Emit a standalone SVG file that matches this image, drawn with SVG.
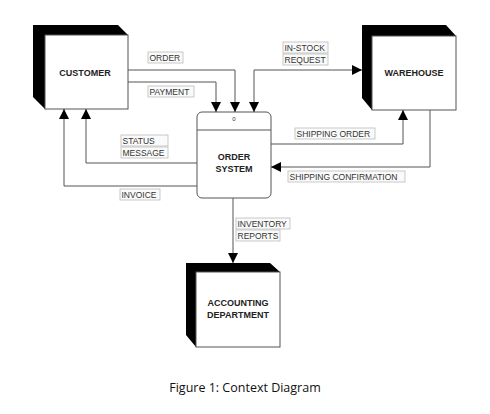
<svg xmlns="http://www.w3.org/2000/svg" width="490" height="414" viewBox="0 0 490 414">
<style>
.blk{fill:#000}
.face{fill:#fff;stroke:#555;stroke-width:1}
.nt{font-family:"Liberation Sans",Arial,sans-serif;font-size:9px;font-weight:bold;fill:#222;text-anchor:middle}
.ln{fill:none;stroke:#555;stroke-width:1}
.lb{fill:#fafafa;stroke:#bbb;stroke-width:0.8}
.lt{font-family:"Liberation Sans",Arial,sans-serif;font-size:8.5px;fill:#333}
.cap{font-family:"Open Sans","Liberation Sans",sans-serif;font-size:12.5px;fill:#111;text-anchor:middle}
</style>
<defs>
<marker id="ah" viewBox="0 0 10 10" refX="10" refY="5" markerWidth="10" markerHeight="10" markerUnits="userSpaceOnUse" orient="auto-start-reverse">
<path d="M0,0 L10,5 L0,10 z" fill="#000"/>
</marker>
</defs>
<rect width="490" height="414" fill="#fff"/>
<g id="customer">
<polygon class="blk" points="33,25 118,25 128,35 45,35 45,109 33,97"/>
<rect class="face" x="45" y="35" width="83" height="74"/>
<text class="nt" x="85" y="76">CUSTOMER</text>
</g>
<g id="warehouse">
<polygon class="blk" points="362,25 446,25 456,36 372,36 372,110 362,98"/>
<rect class="face" x="372" y="36" width="84" height="74"/>
<text class="nt" x="414" y="76">WAREHOUSE</text>
</g>
<g id="accounting">
<polygon class="blk" points="186,263 270,263 280,272 196,272 196,347 186,335"/>
<rect class="face" x="196" y="272" width="84" height="75"/>
<text class="nt" x="238" y="306">ACCOUNTING</text>
<text class="nt" x="238" y="318">DEPARTMENT</text>
</g>
<g id="order-system">
<rect class="face" x="197" y="112" width="74" height="86" rx="5"/>
<line class="ln" x1="197" y1="130" x2="271" y2="130"/>
<text x="234" y="121" font-family="Liberation Sans,Arial,sans-serif" font-size="6px" fill="#333" text-anchor="middle">0</text>
<text class="nt" x="234" y="160">ORDER</text>
<text class="nt" x="234" y="172">SYSTEM</text>
</g>
<g id="connectors">
<polyline class="ln" points="128,70 235,70 235,112" marker-end="url(#ah)"/>
<polyline class="ln" points="128,82 216,82 216,112" marker-end="url(#ah)"/>
<polyline class="ln" points="254,112 254,70 362,70" marker-start="url(#ah)" marker-end="url(#ah)"/>
<polyline class="ln" points="271,144 403,144 403,110" marker-end="url(#ah)"/>
<polyline class="ln" points="430,110 430,167 271,167" marker-end="url(#ah)"/>
<polyline class="ln" points="197,163 86,163 86,109" marker-end="url(#ah)"/>
<polyline class="ln" points="197,186 64,186 64,109" marker-end="url(#ah)"/>
<polyline class="ln" points="233,198 233,263" marker-end="url(#ah)"/>
</g>
<g id="labels">
<rect class="lb" x="148" y="52" width="35" height="11"/>
<text class="lt" x="149.5" y="60.5">ORDER</text>
<rect class="lb" x="148" y="86" width="46" height="11"/>
<text class="lt" x="149.5" y="94.5">PAYMENT</text>
<rect class="lb" x="283" y="42" width="45" height="11"/>
<text class="lt" x="284.5" y="50.5">IN-STOCK</text>
<rect class="lb" x="283" y="54" width="45" height="11"/>
<text class="lt" x="284.5" y="62.5">REQUEST</text>
<rect class="lb" x="295" y="128" width="80" height="11"/>
<text class="lt" x="296.5" y="136.5">SHIPPING ORDER</text>
<rect class="lb" x="288" y="171" width="117" height="11"/>
<text class="lt" x="289.5" y="179.5">SHIPPING CONFIRMATION</text>
<rect class="lb" x="121" y="135" width="47" height="11"/>
<text class="lt" x="122.5" y="143.5">STATUS</text>
<rect class="lb" x="121" y="147" width="47" height="11"/>
<text class="lt" x="122.5" y="155.5">MESSAGE</text>
<rect class="lb" x="120" y="189" width="40" height="11"/>
<text class="lt" x="121.5" y="197.5">INVOICE</text>
<rect class="lb" x="236" y="218" width="54" height="11"/>
<text class="lt" x="237.5" y="226.5">INVENTORY</text>
<rect class="lb" x="236" y="230" width="44" height="11"/>
<text class="lt" x="237.5" y="238.5">REPORTS</text>
</g>
<text class="cap" x="245" y="392">Figure 1: Context Diagram</text>
</svg>
